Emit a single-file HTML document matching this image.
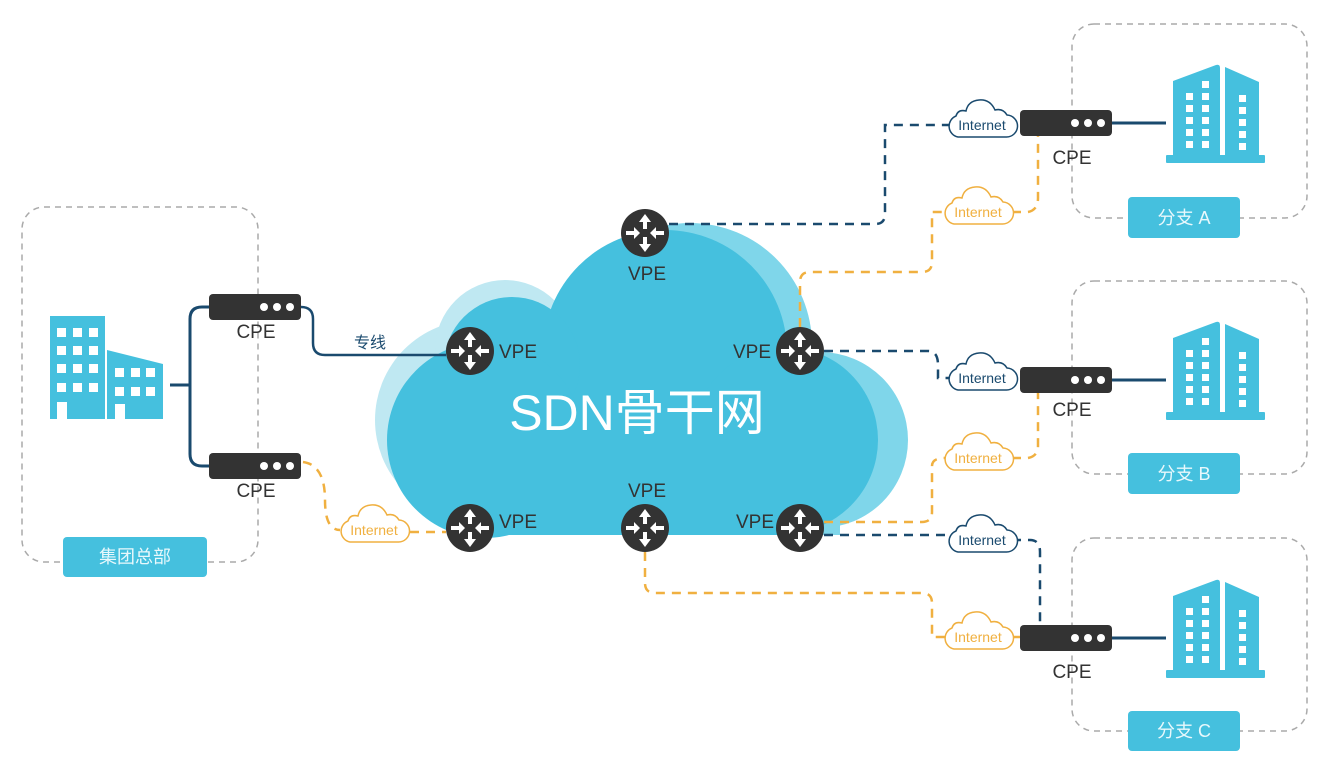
<!DOCTYPE html>
<html><head><meta charset="utf-8"><style>
html,body{margin:0;padding:0;background:#fff;}
svg{display:block;}
text{font-family:"Liberation Sans","Noto Sans CJK SC",sans-serif;}
</style></head><body>
<svg width="1343" height="778" viewBox="0 0 1343 778" xmlns="http://www.w3.org/2000/svg">
<defs>
<g id="router">
 <circle r="24" fill="#333"/>
 <path d="M0,-19 L-6,-11 L-2,-11 L-2,-4 L2,-4 L2,-11 L6,-11 Z" fill="#fff"/>
 <path d="M0,19 L-6,11 L-2,11 L-2,4 L2,4 L2,11 L6,11 Z" fill="#fff"/>
 <path d="M-5,0 L-11,-6 L-11,-2 L-19,-2 L-19,2 L-11,2 L-11,6 Z" fill="#fff"/>
 <path d="M5,0 L11,-6 L11,-2 L19,-2 L19,2 L11,2 L11,6 Z" fill="#fff"/>
</g>
<g id="cpe">
 <rect x="0" y="0" width="92" height="26" rx="4" fill="#333"/>
 <circle cx="55" cy="13" r="4" fill="#fff"/><circle cx="68" cy="13" r="4" fill="#fff"/><circle cx="81" cy="13" r="4" fill="#fff"/>
</g>
<g id="bldg" fill="#45c0de">
 <path d="M7,16 L50,0 Q54,-1 54,3 L54,92 L7,92 Z"/>
 <path d="M59,2 L93,17 L93,92 L59,92 Z"/>
 <rect x="0" y="90" width="99" height="8" rx="1"/>
 <g fill="#fff">
  <rect x="36" y="16" width="7" height="7"/>
  <rect x="20" y="28" width="7" height="7"/><rect x="36" y="28" width="7" height="7"/>
  <rect x="20" y="40" width="7" height="7"/><rect x="36" y="40" width="7" height="7"/>
  <rect x="20" y="52" width="7" height="7"/><rect x="36" y="52" width="7" height="7"/>
  <rect x="20" y="64" width="7" height="7"/><rect x="36" y="64" width="7" height="7"/>
  <rect x="20" y="76" width="7" height="7"/><rect x="36" y="76" width="7" height="7"/>
  <rect x="73" y="30" width="7" height="7"/><rect x="73" y="42" width="7" height="7"/>
  <rect x="73" y="54" width="7" height="7"/><rect x="73" y="66" width="7" height="7"/><rect x="73" y="78" width="7" height="7"/>
 </g>
</g>
<path id="icl" d="M-24,12 L24,12 A11,11 0 0 0 25,-10 Q21,-17 13,-15 Q8,-26 -3,-25 Q-14,-24 -16,-14 Q-24,-16 -26,-9 A11,11 0 0 0 -24,12 Z"/>
</defs>

<!-- dashed boxes -->
<g fill="none" stroke="#aaa" stroke-width="1.5" stroke-dasharray="6,5">
 <rect x="22" y="207" width="236" height="355" rx="22"/>
 <rect x="1072" y="24" width="235" height="194" rx="22"/>
 <rect x="1072" y="281" width="235" height="193" rx="22"/>
 <rect x="1072" y="538" width="235" height="193" rx="22"/>
</g>

<!-- cloud -->
<g fill="#bfe8f2">
 <circle cx="475" cy="420" r="100"/><circle cx="505" cy="350" r="70"/>
</g>
<g fill="#7fd6ea">
 <circle cx="690" cy="345" r="122"/><circle cx="820" cy="440" r="88"/>
 <rect x="560" y="380" width="280" height="155"/>
</g>
<g fill="#45c0de">
 <circle cx="665" cy="352" r="122"/><circle cx="512" cy="365" r="68"/>
 <circle cx="485" cy="440" r="98"/><circle cx="785" cy="440" r="93"/>
 <rect x="485" y="400" width="300" height="135"/>
</g>
<text x="637" y="430" font-size="50" fill="#fff" text-anchor="middle">SDN骨干网</text>

<!-- connectors -->
<g fill="none" stroke-width="3">
 <path d="M170,385 L190,385 M209,307 L202,307 Q190,307 190,319 L190,454 Q190,466 202,466 L209,466" stroke="#1a4a6e"/>
 <path d="M301,307 Q313,307 313,319 L313,343 Q313,355 325,355 L446,355" stroke="#1a4a6e" stroke-width="2.5"/>
 <path d="M1112,123 L1166,123 M1112,380 L1166,380 M1112,638 L1166,638" stroke="#1a4a6e"/>
 <g stroke="#1a4a6e" stroke-dasharray="9,7" stroke-width="2.5">
  <path d="M669,224 L875,224 Q885,224 885,214 L885,125 L950,125"/>
  <path d="M824,351 L928,351 Q938,351 938,365 L938,378 L950,378"/>
  <path d="M824,535 L950,535"/>
  <path d="M1012,540 L1030,540 Q1040,540 1040,552 L1040,625"/>
 </g>
 <g stroke="#f0b040" stroke-dasharray="9,7" stroke-width="2.5">
  <path d="M303,462 Q325,465 325,500 Q325,530 340,530"/>
  <path d="M410,532 L446,532"/>
  <path d="M800,327 L800,282 Q800,272 810,272 L922,272 Q932,272 932,262 L932,212 L945,212"/>
  <path d="M1012,212 L1028,212 Q1038,210 1038,198 L1038,136"/>
  <path d="M824,522 L922,522 Q932,522 932,512 L932,466 Q932,458 945,458"/>
  <path d="M1012,458 L1028,458 Q1038,456 1038,446 L1038,393"/>
  <path d="M645,552 L645,583 Q645,593 655,593 L922,593 Q932,593 932,603 L932,637 L945,637"/>
  <path d="M1012,637 L1020,637"/>
 </g>
</g>

<!-- internet clouds -->
<g stroke-width="1.5" fill="#fff">
 <use href="#icl" x="982" y="125" stroke="#1a4a6e"/>
 <use href="#icl" x="982" y="378" stroke="#1a4a6e"/>
 <use href="#icl" x="982" y="540" stroke="#1a4a6e"/>
 <use href="#icl" x="978" y="212" stroke="#f0b040"/>
 <use href="#icl" x="978" y="458" stroke="#f0b040"/>
 <use href="#icl" x="978" y="637" stroke="#f0b040"/>
 <use href="#icl" x="374" y="530" stroke="#f0b040"/>
</g>
<g font-size="14" text-anchor="middle">
 <text x="982" y="130" fill="#1a4a6e">Internet</text>
 <text x="982" y="383" fill="#1a4a6e">Internet</text>
 <text x="982" y="545" fill="#1a4a6e">Internet</text>
 <text x="978" y="217" fill="#f0b040">Internet</text>
 <text x="978" y="463" fill="#f0b040">Internet</text>
 <text x="978" y="642" fill="#f0b040">Internet</text>
 <text x="374" y="535" fill="#f0b040">Internet</text>
</g>

<!-- routers -->
<use href="#router" x="645" y="233"/>
<use href="#router" x="470" y="351"/>
<use href="#router" x="800" y="351"/>
<use href="#router" x="470" y="528"/>
<use href="#router" x="645" y="528"/>
<use href="#router" x="800" y="528"/>
<g font-size="19" fill="#333">
 <text x="647" y="280" text-anchor="middle">VPE</text>
 <text x="499" y="358">VPE</text>
 <text x="771" y="358" text-anchor="end">VPE</text>
 <text x="499" y="528">VPE</text>
 <text x="647" y="497" text-anchor="middle">VPE</text>
 <text x="774" y="528" text-anchor="end">VPE</text>
</g>
<text x="370" y="348" font-size="16" fill="#1a4a6e" text-anchor="middle">专线</text>

<!-- CPEs -->
<use href="#cpe" x="209" y="294"/>
<use href="#cpe" x="209" y="453"/>
<use href="#cpe" x="1020" y="110"/>
<use href="#cpe" x="1020" y="367"/>
<use href="#cpe" x="1020" y="625"/>
<g font-size="19" fill="#333" text-anchor="middle">
 <text x="256" y="338">CPE</text>
 <text x="256" y="497">CPE</text>
 <text x="1072" y="164">CPE</text>
 <text x="1072" y="416">CPE</text>
 <text x="1072" y="678">CPE</text>
</g>

<!-- buildings -->
<use href="#bldg" x="1166" y="65"/>
<use href="#bldg" x="1166" y="322"/>
<use href="#bldg" x="1166" y="580"/>
<g fill="#45c0de">
 <rect x="50" y="316" width="55" height="103"/>
 <path d="M107,419 L107,350 L163,364 L163,419 Z"/>
 <g fill="#fff">
  <rect x="57" y="328" width="9" height="9"/><rect x="73" y="328" width="9" height="9"/><rect x="89" y="328" width="9" height="9"/>
  <rect x="57" y="346" width="9" height="9"/><rect x="73" y="346" width="9" height="9"/><rect x="89" y="346" width="9" height="9"/>
  <rect x="57" y="364" width="9" height="9"/><rect x="73" y="364" width="9" height="9"/><rect x="89" y="364" width="9" height="9"/>
  <rect x="57" y="383" width="9" height="9"/><rect x="73" y="383" width="9" height="9"/><rect x="89" y="383" width="9" height="9"/>
  <rect x="57" y="402" width="10" height="17"/>
  <rect x="115" y="368" width="9" height="9"/><rect x="131" y="368" width="9" height="9"/><rect x="146" y="368" width="9" height="9"/>
  <rect x="115" y="387" width="9" height="9"/><rect x="131" y="387" width="9" height="9"/><rect x="146" y="387" width="9" height="9"/>
  <rect x="115" y="404" width="10" height="15"/>
 </g>
</g>

<!-- labels -->
<g fill="#45c0de">
 <rect x="63" y="537" width="144" height="40" rx="4"/>
 <rect x="1128" y="197" width="112" height="41" rx="4"/>
 <rect x="1128" y="453" width="112" height="41" rx="4"/>
 <rect x="1128" y="711" width="112" height="40" rx="4"/>
</g>
<g font-size="18" fill="#e8f8fc" text-anchor="middle">
 <text x="135" y="563">集团总部</text>
 <text x="1184" y="224">分支 A</text>
 <text x="1184" y="480">分支 B</text>
 <text x="1184" y="737">分支 C</text>
</g>
</svg>
</body></html>
